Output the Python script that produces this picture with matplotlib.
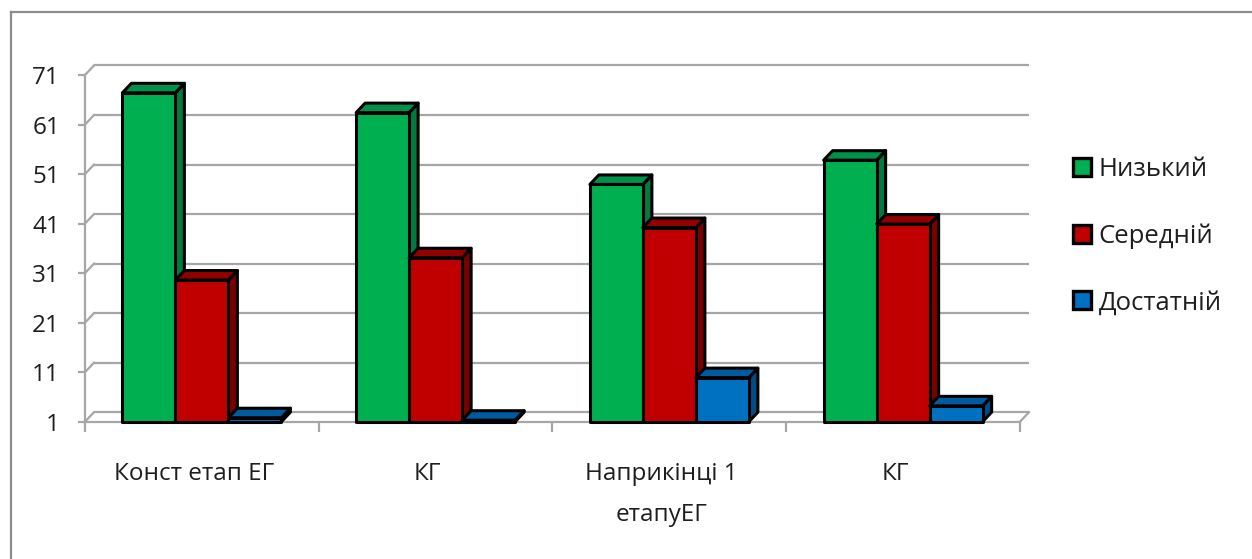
import matplotlib
matplotlib.use("Agg")
import matplotlib.pyplot as plt
from matplotlib.patches import Polygon, Patch
from matplotlib.lines import Line2D
from matplotlib.transforms import ScaledTranslation

plt.rcParams['font.family'] = ['Open Sans', 'DejaVu Sans']

# --- data -------------------------------------------------------------
categories = ["Конст етап ЕГ", "КГ", "Наприкінці 1\nетапуЕГ", "КГ"]
series_names = ["Низький", "Середній", "Достатній"]
low = [67.4, 63.4, 48.9, 53.8]
medium = [29.6, 34.1, 40.2, 40.9]
sufficient = [1.8, 1.3, 9.9, 4.2]
y_ticks = [1, 11, 21, 31, 41, 51, 61, 71]

series = [low, medium, sufficient]

# face colours: front, top, side
front_colors = ["#00B050", "#C00000", "#0070C0"]
top_colors = ["#00914A", "#930000", "#005A9E"]
side_colors = ["#007A3D", "#7A0000", "#004C86"]

grid_color = "#A6A6A6"
text_color = "#1E1E1E"

W, H, DPI = 1252, 559, 100
fig = plt.figure(figsize=(W / DPI, H / DPI), dpi=DPI)
fig.patch.set_facecolor("white")

ax_left, ax_right = 85, 1020
ax_bottom, ax_top = 421.7, 75
ax = fig.add_axes([ax_left / W, (H - ax_bottom) / H,
                   (ax_right - ax_left) / W, (ax_bottom - ax_top) / H])
ax.set_xlim(-0.5, len(categories) - 0.5)
ax.set_ylim(y_ticks[0], y_ticks[-1])
ax.set_facecolor("none")

# depth of the pseudo-3D box, in pixels, converted to data units
depth_px_x, depth_px_y = 9.0, 9.5
px_per_x = (ax_right - ax_left) / (ax.get_xlim()[1] - ax.get_xlim()[0])
px_per_y = (ax_bottom - ax_top) / (ax.get_ylim()[1] - ax.get_ylim()[0])
ddx = depth_px_x / px_per_x
ddy = depth_px_y / px_per_y

x0_lim, x1_lim = ax.get_xlim()
base = ax.get_ylim()[0]

# back wall gridlines and their connectors to the front axis
for v in y_ticks:
    ax.plot([x0_lim + ddx, x1_lim + ddx], [v + ddy, v + ddy],
            color=grid_color, lw=1.6, clip_on=False, zorder=1,
            solid_capstyle="butt")
    ax.plot([x0_lim, x0_lim + ddx], [v, v + ddy],
            color=grid_color, lw=1.6, clip_on=False, zorder=1)
# right edge of the floor
ax.plot([x1_lim, x1_lim + ddx], [base, base + ddy],
        color=grid_color, lw=1.6, clip_on=False, zorder=1)

# bars
bar_w = 53 / px_per_x
n_series = len(series)
for i in range(len(categories)):
    start = i - n_series * bar_w / 2
    for j, values in enumerate(series):
        h = values[i]
        x0 = start + j * bar_w
        x1 = x0 + bar_w
        z = 3 + i * 10 + j
        style = dict(edgecolor="black", lw=2.2, joinstyle="round",
                     clip_on=False, zorder=z, closed=True)
        ax.add_patch(Polygon([(x1, base), (x1 + ddx, base + ddy),
                              (x1 + ddx, h + ddy), (x1, h)],
                             facecolor=side_colors[j], **style))
        ax.add_patch(Polygon([(x0, h), (x1, h), (x1 + ddx, h + ddy),
                              (x0 + ddx, h + ddy)],
                             facecolor=top_colors[j], **style))
        ax.add_patch(Polygon([(x0, base), (x1, base), (x1, h), (x0, h)],
                             facecolor=front_colors[j], **style))

# axes styling
for s in ("top", "right"):
    ax.spines[s].set_visible(False)
for s in ("left", "bottom"):
    ax.spines[s].set_color(grid_color)
    ax.spines[s].set_linewidth(1.6)
    ax.spines[s].set_zorder(2)

ax.set_yticks(y_ticks)
ax.set_yticklabels([str(v) for v in y_ticks])
ax.tick_params(axis="y", direction="out", length=5, width=1.6,
               color=grid_color, labelsize=17.5, labelcolor=text_color, pad=13)

ax.set_xticks(range(len(categories)))
ax.set_xticklabels(categories, linespacing=1.95)
ax.set_xticks([k - 0.5 for k in range(len(categories) + 1)], minor=True)
ax.tick_params(axis="x", which="major", length=0, labelsize=17.5,
               labelcolor=text_color, pad=29)
ax.tick_params(axis="x", which="minor", direction="out", length=7.5,
               width=1.6, color=grid_color)
shift = ScaledTranslation(-8 / DPI, 0, fig.dpi_scale_trans)
for lab in ax.get_xticklabels():
    lab.set_transform(lab.get_transform() + shift)

# legend
handles = [Patch(facecolor=c, edgecolor="black", lw=2.4) for c in front_colors]
fig.legend(handles, series_names, loc="center left",
           bbox_to_anchor=(1050 / W, 1 - 236 / H), frameon=False,
           fontsize=18.5, handlelength=0.7, handleheight=0.7,
           handletextpad=0.3, labelspacing=1.62, labelcolor=text_color)

# chart area border (left and top edges)
border_kw = dict(color="#8C8C8C", lw=1.6, transform=fig.transFigure)
fig.add_artist(Line2D([10.5 / W, 10.5 / W], [0, 1 - 12 / H], **border_kw))
fig.add_artist(Line2D([10.5 / W, 1], [1 - 12 / H, 1 - 12 / H], **border_kw))

fig.savefig("out.png", dpi=DPI)
